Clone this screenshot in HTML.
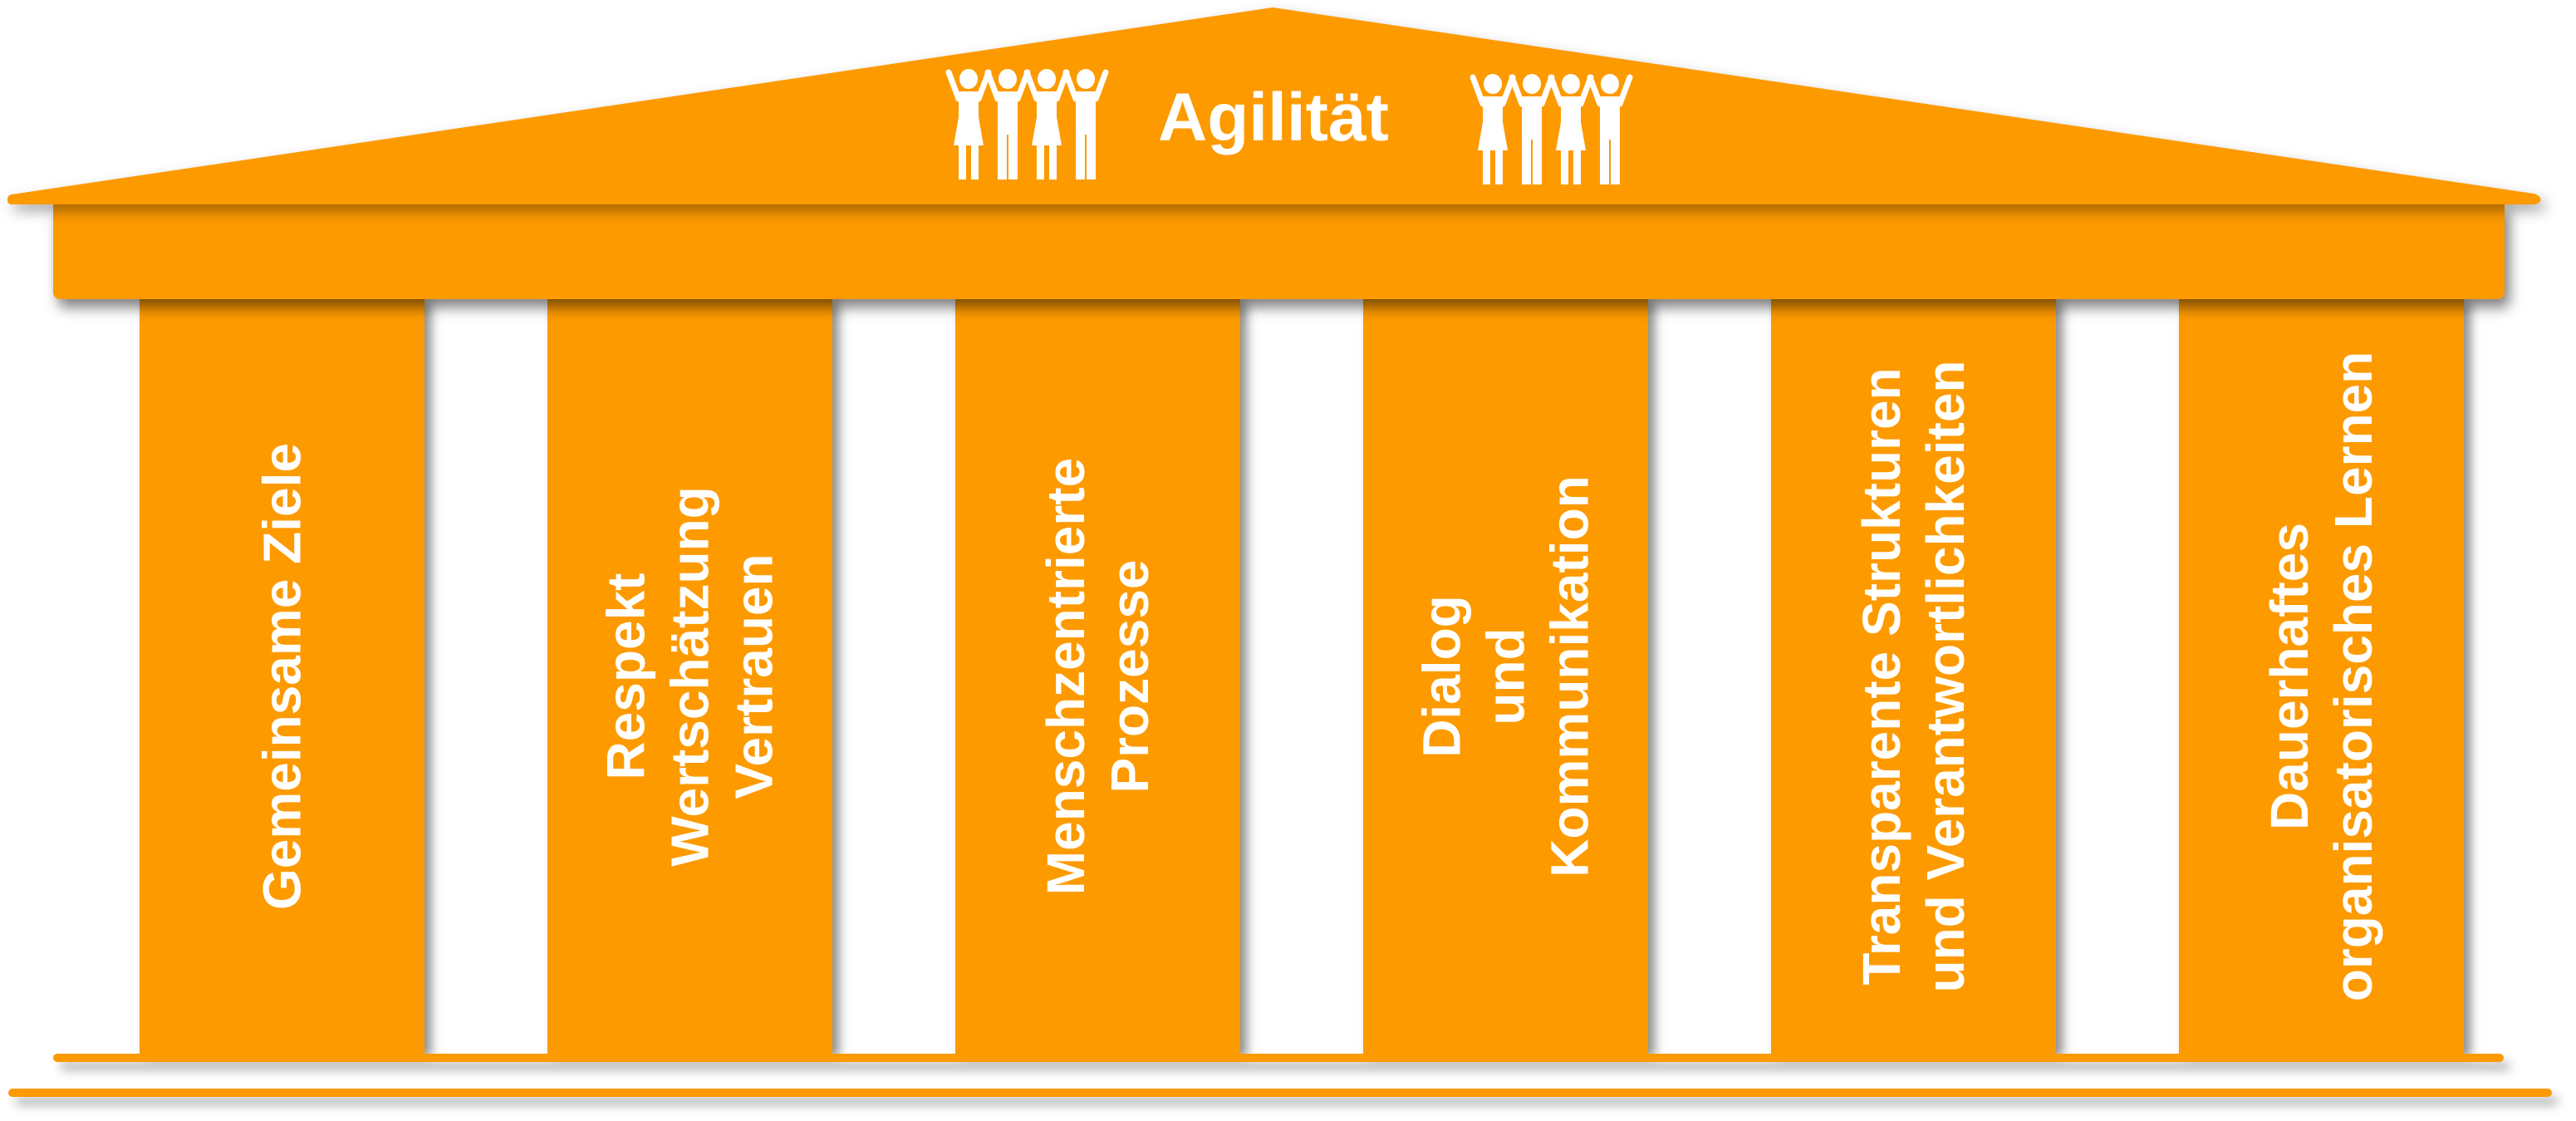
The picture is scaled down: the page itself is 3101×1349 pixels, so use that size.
<!DOCTYPE html>
<html><head><meta charset="utf-8"><style>
html,body{margin:0;padding:0;background:#fff;}
#c{position:relative;width:3101px;height:1349px;overflow:hidden;background:#fff;font-family:"Liberation Sans",Arial,sans-serif;}
.col{position:absolute;top:360px;width:343px;height:908px;background:#fd9a00;box-shadow:8px 4px 12px rgba(0,0,0,.45);z-index:1;}
.col .t{position:absolute;left:50%;top:50%;transform:translate(-50%,-50%) rotate(-90deg);white-space:nowrap;color:#fff;font-weight:bold;font-size:64px;line-height:77px;text-align:center;}
#ent{position:absolute;left:64px;top:245px;width:2951px;height:115px;background:#fd9a00;border-radius:0 0 8px 8px;box-shadow:6px 10px 16px rgba(0,0,0,.5);z-index:2;}
.ln{position:absolute;height:10px;background:#fd9a00;border-radius:5px;box-shadow:8px 10px 12px rgba(0,0,0,.3);z-index:3;}
#roof{position:absolute;left:0;top:0;z-index:4;filter:drop-shadow(6px 8px 8px rgba(0,0,0,.35));}
#ag{position:absolute;left:1394px;top:92px;font-size:82px;font-weight:bold;color:#fff;z-index:5;line-height:100px;}
</style></head><body><div id="c">
<svg id="roof" width="3101" height="260" viewBox="0 0 3101 260">
<path d="M14 234 L1532 9 L3050 233 Q3060 236 3058 242 Q3056 246 3048 246 L14 246 Q9 246 9 240 Q9 235 14 234 Z" fill="#fd9a00"/>
<g fill="#fff" stroke="#fff">
<g transform="translate(1166,83)">
 <g id="w"><ellipse cx="0" cy="12" rx="11" ry="12" stroke="none"/><line x1="-12" y1="36" x2="-24" y2="4" stroke-width="7" stroke-linecap="round"/><line x1="12" y1="36" x2="24" y2="4" stroke-width="7" stroke-linecap="round"/><rect x="-12" y="27" width="24" height="32" stroke="none"/><polygon points="-12,58 12,58 18,92 -18,92" stroke="none"/><rect x="-12" y="92" width="9" height="41" stroke="none"/><rect x="3" y="92" width="9" height="41" stroke="none"/></g>
 <g transform="translate(47,0)"><ellipse cx="0" cy="12" rx="11" ry="12" stroke="none"/><line x1="-12" y1="36" x2="-24" y2="4" stroke-width="7" stroke-linecap="round"/><line x1="12" y1="36" x2="24" y2="4" stroke-width="7" stroke-linecap="round"/><rect x="-12" y="27" width="24" height="52" stroke="none"/><rect x="-12" y="78" width="11" height="55" stroke="none"/><rect x="1" y="78" width="11" height="55" stroke="none"/></g>
 <g transform="translate(94,0)"><ellipse cx="0" cy="12" rx="11" ry="12" stroke="none"/><line x1="-12" y1="36" x2="-24" y2="4" stroke-width="7" stroke-linecap="round"/><line x1="12" y1="36" x2="24" y2="4" stroke-width="7" stroke-linecap="round"/><rect x="-12" y="27" width="24" height="32" stroke="none"/><polygon points="-12,58 12,58 18,92 -18,92" stroke="none"/><rect x="-12" y="92" width="9" height="41" stroke="none"/><rect x="3" y="92" width="9" height="41" stroke="none"/></g>
 <g transform="translate(141,0)"><ellipse cx="0" cy="12" rx="11" ry="12" stroke="none"/><line x1="-12" y1="36" x2="-24" y2="4" stroke-width="7" stroke-linecap="round"/><line x1="12" y1="36" x2="24" y2="4" stroke-width="7" stroke-linecap="round"/><rect x="-12" y="27" width="24" height="52" stroke="none"/><rect x="-12" y="78" width="11" height="55" stroke="none"/><rect x="1" y="78" width="11" height="55" stroke="none"/></g>
</g>
<g transform="translate(1797,89)">
 <g><ellipse cx="0" cy="12" rx="11" ry="12" stroke="none"/><line x1="-12" y1="36" x2="-24" y2="4" stroke-width="7" stroke-linecap="round"/><line x1="12" y1="36" x2="24" y2="4" stroke-width="7" stroke-linecap="round"/><rect x="-12" y="27" width="24" height="32" stroke="none"/><polygon points="-12,58 12,58 18,92 -18,92" stroke="none"/><rect x="-12" y="92" width="9" height="41" stroke="none"/><rect x="3" y="92" width="9" height="41" stroke="none"/></g>
 <g transform="translate(47,0)"><ellipse cx="0" cy="12" rx="11" ry="12" stroke="none"/><line x1="-12" y1="36" x2="-24" y2="4" stroke-width="7" stroke-linecap="round"/><line x1="12" y1="36" x2="24" y2="4" stroke-width="7" stroke-linecap="round"/><rect x="-12" y="27" width="24" height="52" stroke="none"/><rect x="-12" y="78" width="11" height="55" stroke="none"/><rect x="1" y="78" width="11" height="55" stroke="none"/></g>
 <g transform="translate(94,0)"><ellipse cx="0" cy="12" rx="11" ry="12" stroke="none"/><line x1="-12" y1="36" x2="-24" y2="4" stroke-width="7" stroke-linecap="round"/><line x1="12" y1="36" x2="24" y2="4" stroke-width="7" stroke-linecap="round"/><rect x="-12" y="27" width="24" height="32" stroke="none"/><polygon points="-12,58 12,58 18,92 -18,92" stroke="none"/><rect x="-12" y="92" width="9" height="41" stroke="none"/><rect x="3" y="92" width="9" height="41" stroke="none"/></g>
 <g transform="translate(141,0)"><ellipse cx="0" cy="12" rx="11" ry="12" stroke="none"/><line x1="-12" y1="36" x2="-24" y2="4" stroke-width="7" stroke-linecap="round"/><line x1="12" y1="36" x2="24" y2="4" stroke-width="7" stroke-linecap="round"/><rect x="-12" y="27" width="24" height="52" stroke="none"/><rect x="-12" y="78" width="11" height="55" stroke="none"/><rect x="1" y="78" width="11" height="55" stroke="none"/></g>
</g>
</g>
</svg>
<div id="ag">Agilität</div>
<div id="ent"></div>
<div class="col" style="left:168px"><div class="t">Gemeinsame Ziele</div></div>
<div class="col" style="left:659px"><div class="t">Respekt<br>Wertschätzung<br>Vertrauen</div></div>
<div class="col" style="left:1150px"><div class="t">Menschzentrierte<br>Prozesse</div></div>
<div class="col" style="left:1641px"><div class="t">Dialog<br>und<br>Kommunikation</div></div>
<div class="col" style="left:2132px"><div class="t">Transparente Strukturen<br>und Verantwortlichkeiten</div></div>
<div class="col" style="left:2623px"><div class="t">Dauerhaftes<br>organisatorisches Lernen</div></div>
<div class="ln" style="left:64px;top:1268px;width:2950px"></div>
<div class="ln" style="left:10px;top:1310px;width:3062px"></div>
</div></body></html>
